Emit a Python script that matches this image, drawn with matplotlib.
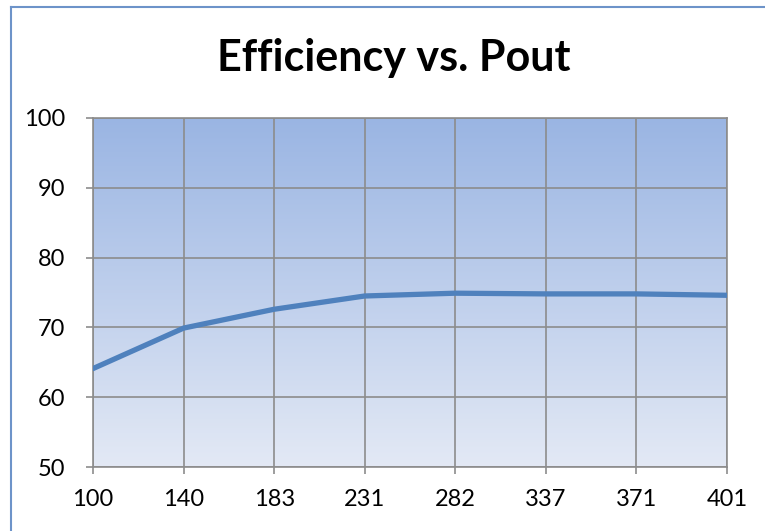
import numpy as np
import matplotlib
matplotlib.use("Agg")
import matplotlib.pyplot as plt
from matplotlib.colors import LinearSegmentedColormap
from matplotlib.lines import Line2D

plt.rcParams['font.family'] = ['Lato', 'DejaVu Sans']

pout = ['100', '140', '183', '231', '282', '337', '371', '401']
efficiency = [64.1, 69.9, 72.6, 74.5, 74.9, 74.8, 74.8, 74.6]
y_ticks = [50, 60, 70, 80, 90, 100]

fig = plt.figure(figsize=(7.65, 5.31), dpi=100)
# chart area border (only top and left show in the crop)
bx, by = 10.5 / 765, 1 - 6.5 / 531
fig.add_artist(Line2D([bx, 1], [by, by], transform=fig.transFigure, color='#6d93c9', linewidth=1.5))
fig.add_artist(Line2D([bx, bx], [0, by], transform=fig.transFigure, color='#6d93c9', linewidth=1.5))

ax = fig.add_axes([93 / 765, 64 / 531, 634 / 765, 349 / 531])

x = np.arange(len(pout))
ax.set_xlim(0, len(pout) - 1)
ax.set_ylim(50, 100)

# gradient background
cmap = LinearSegmentedColormap.from_list('bg', ['#e3e9f5', '#9ab5e3'])
grad = np.linspace(0, 1, 256).reshape(-1, 1)
ax.imshow(grad, cmap=cmap, aspect='auto', origin='lower',
          extent=[0, len(pout) - 1, 50, 100], zorder=0)

ax.set_xticks(x)
ax.set_xticklabels(pout)
ax.set_yticks(y_ticks)
ax.grid(True, color='#8c8c8c', linewidth=1.2, zorder=1)
ax.set_axisbelow(False)

ax.plot(x, efficiency, color='#4f81bd', linewidth=3.8, solid_capstyle='round', zorder=3)

for s in ax.spines.values():
    s.set_color('#8c8c8c')
    s.set_linewidth(1.2)
ax.tick_params(axis='both', labelsize=17, length=5, width=1.2, color='#8c8c8c')
ax.tick_params(axis='y', pad=15)
ax.tick_params(axis='x', pad=11)

fig.text(0.515, 1 - 58 / 531, 'Efficiency vs. Pout', ha='center', va='center',
         fontsize=31, fontweight='bold')

fig.savefig('out.png', dpi=100)
